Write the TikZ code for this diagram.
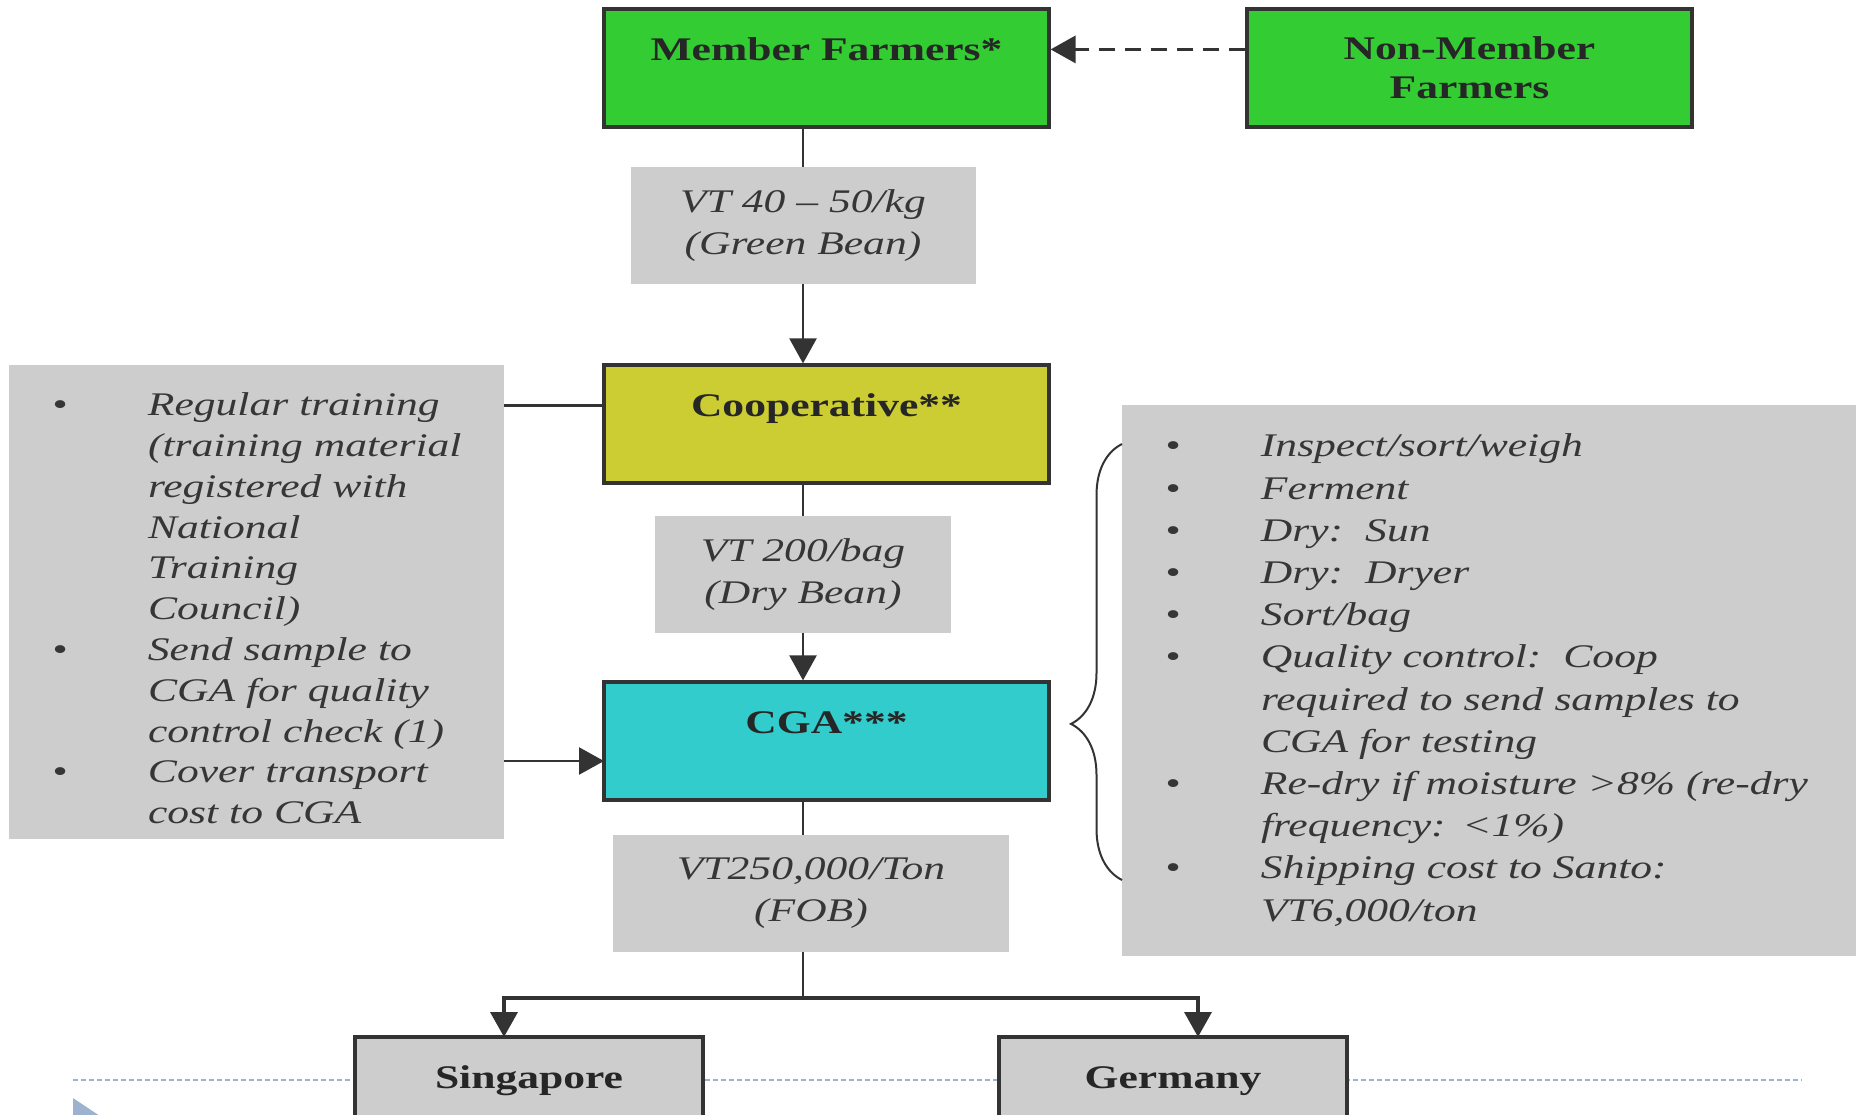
\documentclass[tikz,border=0pt]{standalone}
\usepackage{fontspec}
\setmainfont{Liberation Serif}[FakeStretch=1.32]
\usetikzlibrary{arrows.meta,decorations.pathreplacing}
\definecolor{farmgreen}{HTML}{33CC33}
\definecolor{coopolive}{HTML}{CCCC33}
\definecolor{cgacyan}{HTML}{33CCCC}
\definecolor{notegray}{HTML}{CDCDCD}
\definecolor{edgegray}{HTML}{333333}
\definecolor{inkgray}{HTML}{363636}
\definecolor{slideblue}{HTML}{9CB2CE}

\begin{document}
\begin{tikzpicture}[x=0.5pt, y=-0.5pt,
	wire/.style={draw=edgegray, line width=1.2pt},
	arrowed/.style={-{Triangle[length=12.5pt, width=13.5pt]}},
	colorbox/.style={draw=edgegray, line width=1.6pt, minimum width=222.5pt, minimum height=59pt, text=black!85, font=\fontsize{16.5}{19.5}\selectfont\bfseries},
	toptitle/.style={inner ysep=0pt, text height=25.5pt, text depth=33.5pt},
	pricebox/.style={fill=notegray, minimum width=#1, minimum height=58.5pt, align=center, text=inkgray, font=\fontsize{16.5}{21}\selectfont\itshape},
	notebox/.style={fill=notegray, inner xsep=21.5pt, inner ysep=0pt, align=left, text=inkgray}]
\useasboundingbox (0, 0) rectangle (1856, 1114);
\node[colorbox, toptitle, fill=farmgreen] (member) at (826.5, 68) {Member Farmers*};
\node[colorbox, fill=farmgreen, align=center] (nonmember) at (1469.5, 68) {Non-Member\\Farmers};
\node[pricebox=172.5pt] (bean) at (803, 225.5) {VT 40 -- 50/kg\\(Green Bean)};
\node[colorbox, toptitle, fill=coopolive] (coop) at (826.5, 424) {Cooperative**};
\node[pricebox=148pt] (dry) at (803, 574.5) {VT 200/bag\\(Dry Bean)};
\node[colorbox, toptitle, fill=cgacyan] (cga) at (826.5, 741) {CGA***};
\node[pricebox=198pt] (fob) at (811, 893.5) {VT250,000/Ton\\(FOB)};
\node[notebox, minimum height=237pt, text width=204.5pt, font=\fontsize{16.5}{20.4}\selectfont\itshape] (train) at (256.5, 602) {\noindent\raisebox{-4.75pt}[\height][\depth]{\begin{tabular}{@{}p{48pt}@{}l@{}}
\textbullet & Regular training\\
 & (training material\\
 & registered with\\
 & National\\
 & Training\\
 & Council)\\
\textbullet & Send sample to\\
 & CGA for quality\\
 & control check (1)\\
\textbullet & Cover transport\\
 & cost to CGA
\end{tabular}}};
\node[notebox, minimum height=275.5pt, text width=329pt, font=\fontsize{16.5}{21.1}\selectfont\itshape] (steps) at (1494, 680.5) {\noindent\begin{tabular}{@{}p{48pt}@{}l@{}}
\textbullet & Inspect/sort/weigh\\
\textbullet & Ferment\\
\textbullet & Dry:\ \ Sun\\
\textbullet & Dry:\ \ Dryer\\
\textbullet & Sort/bag\\
\textbullet & Quality control:\ \ Coop\\
 & required to send samples to\\
 & CGA for testing\\
\textbullet & Re-dry if moisture >8\% (re-dry\\
 & frequency: <1\%)\\
\textbullet & Shipping cost to Santo:\\
 & VT6,000/ton
\end{tabular}};
\coordinate (rulel) at (73, 1080);
\coordinate (ruler) at (1802, 1080);
\draw[slideblue, line width=1pt, dash pattern=on 2.5pt off 1.5pt] (rulel) to (ruler);
\fill[slideblue] (73, 1098) -- (103, 1118) -- (73, 1138) -- cycle;
\node[colorbox, toptitle, fill=notegray, minimum width=174pt] (singapore) at (529, 1096) {Singapore};
\node[colorbox, toptitle, fill=notegray, minimum width=174pt] (germany) at (1173, 1096) {Germany};
\coordinate (split) at (803, 998);
\coordinate (singin) at (504, 1037);
\coordinate (germin) at (1198, 1037);
\coordinate (memberin) at ([yshift=3pt]member.mid east);
\coordinate (coopin) at ([yshift=3pt]coop.mid west);
\coordinate (cgain) at (604, 761);
\coordinate (bracetop) at (1122, 444);
\coordinate (bracebot) at (1122, 880);
\draw[wire, line width=1.7pt, dash pattern=on 8pt off 5pt, arrowed] (nonmember.west |- memberin) to (memberin);
\draw[wire] (bean.north |- member.south) to (bean.north);
\draw[wire, arrowed] (bean.south) to (bean.south |- coop.north);
\draw[wire] (dry.north |- coop.south) to (dry.north);
\draw[wire, arrowed] (dry.south) to (dry.south |- cga.north);
\draw[wire] (split |- cga.south) to (split |- fob.north);
\draw[wire] (split |- fob.south) to (split);
\draw[wire, line width=1.8pt, arrowed] (split) -| (singin);
\draw[wire, line width=1.8pt, arrowed] (split) -| (germin);
\draw[wire] (train.east |- coopin) to (coopin);
\draw[wire, arrowed] (train.east |- cgain) to (cgain);
\draw[draw=edgegray, line width=1pt, decorate, decoration={brace, amplitude=25.5pt, aspect=0.358}] (bracebot) to (bracetop);
\end{tikzpicture}
\end{document}
